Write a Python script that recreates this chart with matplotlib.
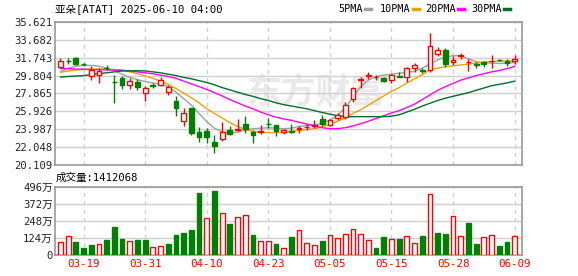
import matplotlib
matplotlib.use('Agg')
import matplotlib.pyplot as plt
from matplotlib.lines import Line2D
import numpy as np

plt.rcParams['font.family'] = ['DejaVu Sans Mono', 'Noto Sans CJK SC']

# daily candles, 2025-03-14 .. 2025-06-09 (60 sessions)
opens = [30.75, 31.38, 31.69, 31.07, 29.74, 29.85, 30.62, 29.15, 29.53, 28.74,
         29.10, 27.90, 28.75, 28.77, 28.04, 27.07, 24.84, 26.28, 23.65, 23.79,
         22.57, 22.89, 23.90, 23.95, 24.55, 23.71, 23.68, 24.55, 24.41, 23.65,
         23.85, 23.98, 24.22, 24.38, 25.12, 24.44, 25.23, 25.27, 27.25, 29.35,
         29.80, 29.60, 29.53, 29.31, 29.70, 29.60, 30.64, 30.37, 30.39, 32.12,
         32.56, 31.28, 31.90, 31.27, 31.00, 31.26, 31.35, 31.48, 31.40, 31.33]
closes = [31.40, 31.33, 31.04, 31.03, 30.39, 30.29, 30.58, 29.10, 28.77, 29.23,
          28.52, 28.44, 28.70, 29.34, 28.52, 26.25, 25.70, 23.55, 23.11, 23.11,
          22.20, 23.71, 23.43, 24.00, 24.04, 23.36, 23.75, 24.50, 23.79, 23.93,
          23.70, 24.15, 24.28, 24.44, 24.51, 24.98, 25.55, 26.57, 28.44, 29.42,
          29.87, 29.65, 29.23, 29.85, 29.65, 30.64, 30.93, 30.32, 32.99, 32.52,
          31.04, 31.50, 31.98, 31.32, 30.95, 31.01, 31.40, 31.44, 31.18, 31.55]
highs = [31.72, 31.72, 31.80, 31.20, 30.79, 30.64, 30.95, 29.90, 29.74, 29.56,
         29.42, 28.69, 28.95, 29.60, 28.77, 27.58, 26.25, 26.30, 24.19, 24.10,
         23.36, 24.76, 24.33, 25.06, 25.41, 23.90, 24.40, 25.20, 24.45, 24.04,
         24.50, 24.30, 24.50, 25.00, 25.49, 25.09, 25.70, 26.96, 28.58, 29.67,
         30.21, 29.85, 29.60, 29.96, 30.21, 30.75, 31.12, 30.58, 34.43, 32.85,
         32.74, 31.91, 32.20, 31.55, 31.23, 31.33, 32.00, 31.62, 31.62, 31.98]
lows = [30.58, 31.00, 30.93, 30.82, 29.31, 28.95, 30.40, 26.80, 28.34, 28.30,
        28.23, 27.07, 28.40, 28.63, 27.69, 25.41, 24.33, 23.40, 22.57, 22.46,
        21.44, 22.74, 23.36, 23.79, 23.54, 22.46, 23.47, 24.15, 23.28, 23.47,
        23.55, 23.60, 23.90, 24.08, 24.33, 24.33, 24.98, 25.06, 26.96, 28.41,
        29.42, 29.30, 29.09, 28.95, 29.60, 29.13, 30.21, 30.04, 30.21, 31.91,
        30.75, 30.90, 31.55, 30.32, 30.64, 30.75, 30.58, 31.33, 30.86, 31.01]

ma5 = [30.23, 30.60, 30.80, 30.90, 30.90, 30.80, 30.60, 30.30, 29.95, 29.60,
       29.35, 29.15, 29.00, 28.85, 28.60, 28.00, 27.30, 26.60, 25.70, 24.80,
       24.10, 23.70, 23.60, 23.65, 23.90, 24.05, 24.10, 24.15, 24.10, 24.05,
       24.10, 24.30, 24.40, 24.45, 24.60, 25.00, 25.50, 26.30, 27.50, 28.60,
       29.30, 29.70, 29.85, 29.95, 30.05, 30.15, 30.25, 30.60, 31.05, 31.50,
       31.80, 31.95, 31.95, 31.60, 31.30, 31.20, 31.15, 31.10, 31.15, 31.20]
ma10 = [30.16, 30.30, 30.40, 30.45, 30.50, 30.50, 30.50, 30.45, 30.40, 30.20,
        30.00, 29.75, 29.50, 29.20, 28.85, 28.40, 27.90, 27.40, 26.85, 26.20,
        25.70, 25.20, 24.70, 24.30, 23.95, 23.75, 23.65, 23.62, 23.62, 23.65,
        23.75, 23.85, 23.95, 24.05, 24.25, 24.50, 24.85, 25.25, 25.70, 26.10,
        26.60, 27.10, 27.60, 28.10, 28.50, 29.00, 29.45, 29.90, 30.40, 30.60,
        30.75, 30.85, 30.95, 31.05, 31.15, 31.25, 31.30, 31.35, 31.37, 31.40]
ma20 = [30.55, 30.55, 30.50, 30.50, 30.45, 30.45, 30.40, 30.40, 30.35, 30.30,
        30.20, 30.10, 30.00, 29.85, 29.70, 29.50, 29.20, 28.90, 28.60, 28.30,
        27.95, 27.60, 27.20, 26.85, 26.50, 26.20, 25.85, 25.55, 25.30, 25.10,
        24.95, 24.75, 24.55, 24.35, 24.15, 24.05, 24.05, 24.15, 24.35, 24.60,
        24.85, 25.15, 25.45, 25.75, 26.00, 26.35, 26.70, 27.20, 27.70, 28.20,
        28.60, 28.95, 29.30, 29.55, 29.80, 30.00, 30.20, 30.35, 30.55, 30.80]
ma30 = [29.65, 29.70, 29.75, 29.80, 29.90, 30.00, 30.10, 30.20, 30.30, 30.32,
        30.32, 30.30, 30.20, 30.10, 29.95, 29.80, 29.60, 29.45, 29.25, 29.05,
        28.80, 28.50, 28.25, 28.00, 27.75, 27.55, 27.30, 27.10, 26.85, 26.65,
        26.50, 26.35, 26.20, 26.00, 25.80, 25.62, 25.45, 25.35, 25.35, 25.35,
        25.35, 25.35, 25.35, 25.40, 25.55, 25.85, 26.15, 26.50, 26.80, 27.10,
        27.35, 27.55, 27.75, 27.95, 28.20, 28.45, 28.70, 28.85, 29.00, 29.20]

# volume in 万 shares, and whether the bar is red (close above previous close)
volume = [94, 136, 94, 53, 70, 77, 109, 203, 116, 102,
          109, 109, 56, 63, 80, 145, 160, 182, 450, 266,
          465, 303, 225, 273, 288, 145, 102, 102, 80, 51,
          131, 182, 85, 70, 102, 143, 121, 150, 186, 150,
          106, 51, 131, 114, 116, 136, 85, 138, 440, 160,
          152, 281, 136, 232, 80, 128, 143, 65, 92, 136]
vol_up = [1, 1, 0, 0, 0, 1, 0, 0, 0, 1,
          0, 0, 1, 1, 0, 0, 0, 0, 0, 1,
          0, 1, 0, 1, 1, 0, 1, 1, 0, 1,
          0, 1, 1, 1, 0, 1, 1, 1, 1, 1,
          1, 0, 0, 1, 0, 1, 1, 0, 1, 0,
          0, 1, 1, 0, 0, 1, 1, 0, 0, 1]

tick_pos = [3, 11, 19, 27, 35, 43, 51, 59]
tick_dates = ['03-19', '03-31', '04-10', '04-23', '05-05', '05-15', '05-28', '06-09']
price_ticks = [20.109, 22.048, 23.987, 25.926, 27.865, 29.804, 31.743, 33.682, 35.621]
vol_ticks = [0, 124, 248, 372, 496]
vol_labels = ['0', '124万', '248万', '372万', '496万']

RED = '#ff0000'
GREEN = '#008000'
GRID = '#d0d0d0'

fig = plt.figure(figsize=(5.78, 2.76), dpi=100)
ax = fig.add_axes([0.096, 0.402, 0.807, 0.519])
axv = fig.add_axes([0.096, 0.076, 0.807, 0.2475])

x = np.arange(len(opens))
o = np.array(opens)
c = np.array(closes)
up = c >= o

# watermark
ax.text(0.41, 0.51, '东方财富', transform=ax.transAxes, fontsize=25, color='#e9e9e9',
        ha='left', va='center', family=['Noto Sans CJK SC'], fontweight='bold', zorder=0)

# candles
w = 0.62
ax.vlines(x[up], np.array(lows)[up], np.array(highs)[up], color=RED, lw=1, zorder=3)
ax.vlines(x[~up], np.array(lows)[~up], np.array(highs)[~up], color=GREEN, lw=1, zorder=3)
body = np.maximum(np.abs(c - o), 0.03)
ax.bar(x[up], body[up], bottom=o[up], width=w, facecolor='white', edgecolor=RED, lw=1, zorder=4)
ax.bar(x[~up], body[~up], bottom=c[~up], width=w, facecolor=GREEN, edgecolor=GREEN, lw=1, zorder=4)

# moving averages
ax.plot(x, ma5, color='#a0a0a0', lw=1, zorder=2)
ax.plot(x, ma10, color='#f5a000', lw=1, zorder=2)
ax.plot(x, ma20, color='#ff00ff', lw=1, zorder=2)
ax.plot(x, ma30, color='#006e2e', lw=1, zorder=2)

ax.set_xlim(-0.65, 59.95)
ax.set_ylim(20.109, 35.621)
ax.set_yticks(price_ticks)
ax.set_yticklabels(['%.3f' % t for t in price_ticks])
ax.set_xticks(tick_pos)
ax.set_xticklabels([])

# volume
vu = np.array(vol_up) == 1
vol = np.array(volume)
axv.bar(x[vu], vol[vu], width=w, facecolor='white', edgecolor=RED, lw=1, zorder=3)
axv.bar(x[~vu], vol[~vu], width=w, facecolor=GREEN, edgecolor=GREEN, lw=1, zorder=3)
axv.set_xlim(-0.65, 59.95)
axv.set_ylim(0, 496)
axv.set_yticks(vol_ticks)
axv.set_yticklabels(vol_labels)
axv.set_xticks(tick_pos)
axv.set_xticklabels(tick_dates, color=RED)

for a in (ax, axv):
    a.tick_params(length=0, labelsize=7.6, colors='#222222', pad=2)
    a.grid(axis='y', color=GRID, lw=1, zorder=0)
    a.grid(axis='x', color=GRID, lw=1, ls=(0, (3, 3)), zorder=0)
    a.set_axisbelow(True)
    for s in a.spines.values():
        s.set_color('#999999')
        s.set_linewidth(1.2)
axv.tick_params(axis='x', labelcolor=RED, labelsize=7.8, pad=3)

# header texts
fig.text(0.096, 0.968, '亚朵[ATAT] 2025-06-10 04:00', fontsize=7.6, va='center', ha='left')
fig.text(0.097, 0.356, '成交量:1412068', fontsize=7.6, va='center', ha='left')

legend = [('5PMA', '#a0a0a0', 338), ('10PMA', '#f5a000', 380),
          ('20PMA', '#ff00ff', 425), ('30PMA', '#006e2e', 471)]
for name, col, px in legend:
    fig.text(px / 578, 0.968, name, fontsize=7.3, va='center', ha='left')
    end = px + 6.0 * len(name) + 3
    fig.add_artist(Line2D([end / 578, (end + 5.5) / 578], [0.968, 0.968],
                          color=col, lw=2.5, transform=fig.transFigure))

fig.savefig('out.png', dpi=100)
